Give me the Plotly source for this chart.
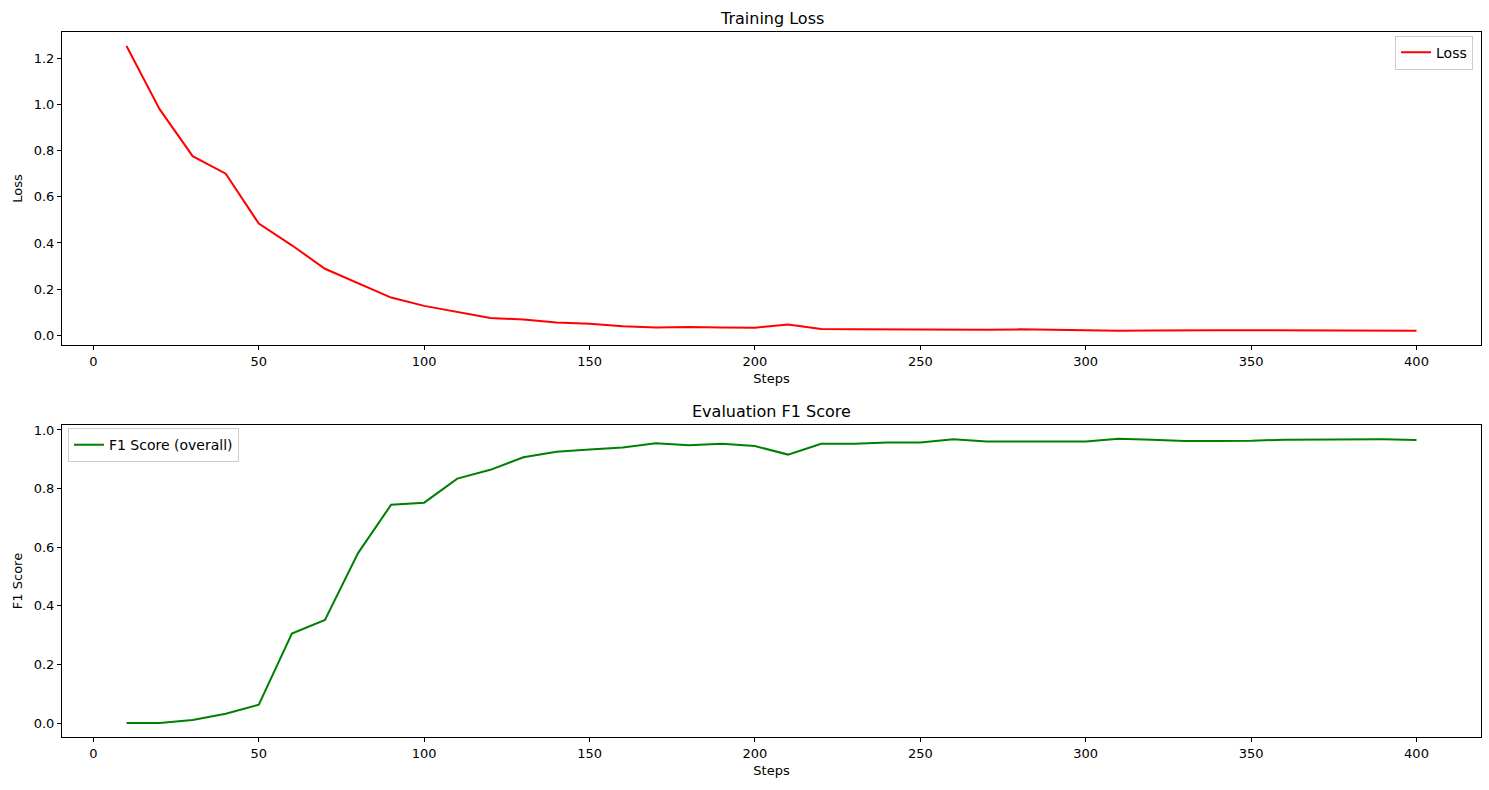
import plotly.graph_objects as go
from plotly.subplots import make_subplots

steps = list(range(10, 401, 10))
loss = [1.255, 0.981, 0.777, 0.701, 0.484, 0.390, 0.288, 0.224, 0.163, 0.127,
        0.101, 0.074, 0.068, 0.055, 0.049, 0.039, 0.033, 0.035, 0.033, 0.032,
        0.046, 0.027, 0.026, 0.025, 0.027, 0.023, 0.023, 0.025, 0.022, 0.021,
        0.019, 0.020, 0.022, 0.021, 0.021, 0.020, 0.019, 0.019, 0.019, 0.019]
f1 = [0.001, 0.001, 0.011, 0.032, 0.063, 0.306, 0.352, 0.580, 0.745, 0.752,
      0.834, 0.864, 0.907, 0.926, 0.933, 0.940, 0.955, 0.948, 0.953, 0.945,
      0.916, 0.953, 0.953, 0.957, 0.957, 0.968, 0.961, 0.960, 0.961, 0.961,
      0.970, 0.967, 0.962, 0.962, 0.963, 0.967, 0.968, 0.968, 0.968, 0.966]
x_ticks = [0, 50, 100, 150, 200, 250, 300, 350, 400]

FONT = "DejaVu Sans"

fig = make_subplots(rows=2, cols=1, vertical_spacing=0.1)
fig.add_trace(go.Scatter(x=steps, y=loss, mode="lines", name="Loss",
                         line=dict(color="#ff0000", width=2), legend="legend"),
              row=1, col=1)
fig.add_trace(go.Scatter(x=steps, y=f1, mode="lines", name="F1 Score (overall)",
                         line=dict(color="#008000", width=2), legend="legend2"),
              row=2, col=1)

axis_common = dict(showgrid=False, zeroline=False, showline=True, linecolor="black",
                   linewidth=1, mirror=True, ticks="outside", ticklen=4,
                   tickcolor="black", tickfont=dict(family=FONT, size=13, color="black"))

fig.update_xaxes(**axis_common, range=[-9.5, 419.5], tickvals=x_ticks,
                 title=dict(text="Steps", font=dict(family=FONT, size=13, color="black"),
                            standoff=6))
fig.update_yaxes(**axis_common)
fig.update_yaxes(range=[-0.043, 1.316], tickvals=[0, 0.2, 0.4, 0.6, 0.8, 1.0, 1.2],
                 tickformat=".1f", domain=[0.556, 1.0],
                 title=dict(text="Loss", font=dict(family=FONT, size=13, color="black"),
                            standoff=8), row=1, col=1)
fig.update_yaxes(range=[-0.047, 1.017], tickvals=[0, 0.2, 0.4, 0.6, 0.8, 1.0],
                 tickformat=".1f", domain=[0.0, 0.4426],
                 title=dict(text="F1 Score", font=dict(family=FONT, size=13, color="black"),
                            standoff=8), row=2, col=1)

fig.add_annotation(text="Training Loss", x=0.5, y=1.0, xref="paper", yref="paper",
                   xanchor="center", yanchor="bottom", yshift=2, showarrow=False,
                   font=dict(family=FONT, size=16, color="black"))
fig.add_annotation(text="Evaluation F1 Score", x=0.5, y=0.4426, xref="paper", yref="paper",
                   xanchor="center", yanchor="bottom", yshift=2, showarrow=False,
                   font=dict(family=FONT, size=16, color="black"))

legend_style = dict(bgcolor="rgba(255,255,255,0.8)", bordercolor="#cccccc", borderwidth=1,
                    font=dict(family=FONT, size=14, color="black"))
fig.update_layout(
    width=1489, height=790,
    margin=dict(l=62, r=8, t=32, b=53),
    paper_bgcolor="white", plot_bgcolor="white",
    font=dict(family=FONT, size=13, color="black"),
    showlegend=True,
    legend=dict(x=0.9944, y=0.995, xanchor="right", yanchor="top", **legend_style),
    legend2=dict(x=0.0042, y=0.438, xanchor="left", yanchor="top", **legend_style),
)

fig.write_html("out.html")
